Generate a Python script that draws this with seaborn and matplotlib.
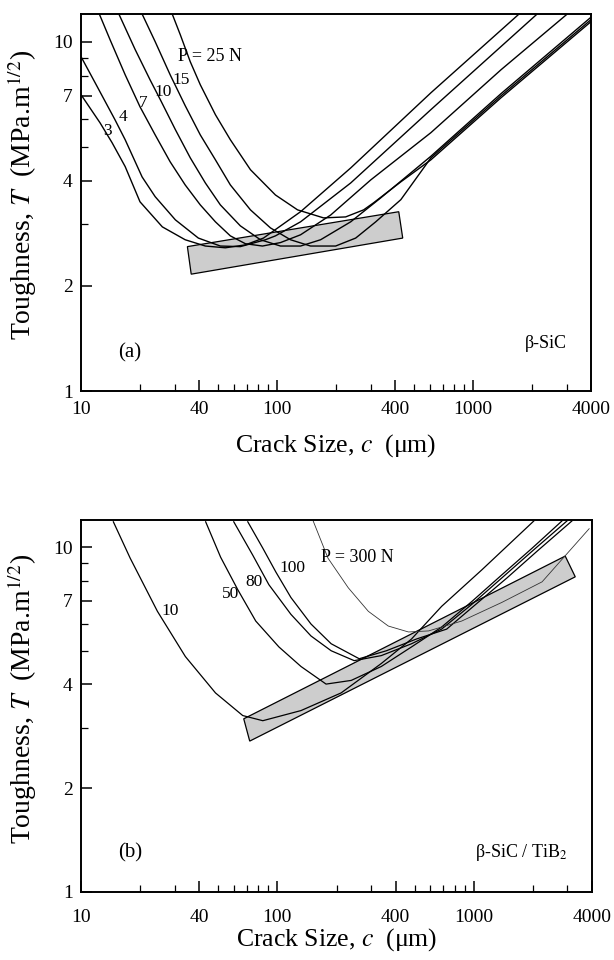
import numpy as np
import pandas as pd
import seaborn as sns
from matplotlib import pyplot as plt
from matplotlib.ticker import FixedLocator, NullFormatter

# ---- panel (a): beta-SiC, crack size c (um) vs toughness T (MPa.m^1/2)
a_loads = [3, 4, 7, 10, 15, 25]
a_c3 = [10, 12.5, 14.4, 16.8, 20.0, 26.0, 34.0, 43.1, 54.5, 69.0, 85.3, 131.9, 237.7, 610, 1718]
a_T3 = [7.05, 5.86, 5.14, 4.39, 3.48, 2.95, 2.71, 2.60, 2.57, 2.62, 2.74, 3.26, 4.35, 7.14, 12.0]
a_c4 = [10, 11.8, 14.9, 16.8, 20.5, 23.9, 30.3, 39.7, 51.4, 65.0, 87.3, 98.2, 131.9, 237.7, 610, 2125]
a_T4 = [9.06, 7.63, 5.98, 5.24, 4.10, 3.60, 3.09, 2.74, 2.60, 2.59, 2.71, 2.78, 3.05, 3.94, 6.39, 12.0]
a_c7 = [12.4, 14.1, 16.8, 20.0, 23.9, 28.5, 34.0, 40.6, 48.5, 57.8, 69.0, 84.3, 104.2, 131.9, 187.9, 300.8, 610, 1390, 3027]
a_T7 = [12.0, 10.1, 8.04, 6.51, 5.41, 4.53, 3.89, 3.41, 3.05, 2.78, 2.64, 2.60, 2.66, 2.80, 3.19, 4.02, 5.49, 8.31, 12.0]
a_c10 = [15.6, 18.9, 22.5, 25.4, 30.3, 36.1, 43.1, 51.4, 65.0, 82.3, 104.2, 131.9, 166.9, 237.7, 338, 610, 1390, 4000]
a_T10 = [12.0, 9.49, 7.78, 6.82, 5.60, 4.65, 3.94, 3.41, 2.97, 2.71, 2.60, 2.60, 2.71, 3.05, 3.57, 4.70, 7.10, 11.75]
a_c15 = [20.5, 23.9, 28.5, 34.0, 40.6, 48.5, 57.8, 73.2, 92.6, 117.2, 148.3, 199.1, 252, 319, 428.5, 610, 1390, 4000]
a_T15 = [12.0, 10.0, 8.04, 6.56, 5.41, 4.59, 3.89, 3.30, 2.93, 2.71, 2.60, 2.60, 2.74, 3.05, 3.53, 4.65, 7.00, 11.56]
a_c25 = [29.2, 32.1, 36.1, 40.6, 48.5, 57.8, 73.2, 98.2, 127.3, 172.8, 224, 276.7, 311.6, 428.5, 610, 1390, 4000]
a_T25 = [12.0, 10.47, 8.76, 7.53, 6.18, 5.24, 4.30, 3.64, 3.30, 3.13, 3.15, 3.30, 3.46, 3.97, 4.59, 6.91, 11.41]
a_band_c = [34.9, 418, 438, 36.5]
a_band_T = [2.59, 3.26, 2.74, 2.16]

# ---- panel (b): beta-SiC / TiB2
b_loads = [10, 50, 80, 100, 300]
b_c10 = [14.6, 17.8, 24.5, 34.0, 48.4, 66.6, 84.3, 131.9, 211, 338, 482, 686, 1099, 2028]
b_T10 = [11.87, 9.30, 6.52, 4.82, 3.78, 3.25, 3.14, 3.36, 3.78, 4.60, 5.42, 6.74, 8.60, 11.94]
b_c50 = [43.1, 51.4, 62.8, 77.6, 101.8, 131.9, 177, 237.7, 338, 482, 686, 977, 1390, 1982, 2820]
b_T50 = [11.87, 9.36, 7.54, 6.11, 5.14, 4.51, 4.01, 4.11, 4.51, 5.14, 5.87, 6.96, 8.32, 9.94, 11.94]
b_c80 = [59.9, 74.9, 90.5, 117.2, 148.3, 187.9, 246, 338, 482, 686, 977, 1390, 1982, 2991]
b_T80 = [11.87, 9.49, 7.79, 6.39, 5.53, 5.01, 4.69, 4.85, 5.25, 5.79, 6.83, 8.15, 9.74, 11.94]
b_c100 = [70.6, 84.3, 98.2, 117.2, 148.3, 187.9, 261, 359, 511, 728, 1036, 1476, 2100, 3170]
b_T100 = [11.87, 9.94, 8.48, 7.15, 5.99, 5.25, 4.75, 5.01, 5.42, 5.79, 6.87, 8.15, 9.74, 11.94]
b_c300 = [152, 181, 229.6, 290.5, 367, 465, 589, 868, 1390, 2228, 3873]
b_T300 = [11.94, 9.30, 7.63, 6.52, 5.91, 5.68, 5.72, 6.11, 6.92, 7.94, 11.33]
b_band_c = [67.4, 2922, 3287, 72.3]
b_band_T = [3.18, 9.43, 8.21, 2.74]

x_ticks = [10, 40, 100, 400, 1000, 4000]
y_ticks = [1, 2, 4, 7, 10]
y_minor = [3, 5, 6, 8, 9]


def to_long(cs, ts, loads):
    frames = [pd.DataFrame({"c": c, "T": t, "P": p}) for c, t, p in zip(cs, ts, loads)]
    return pd.concat(frames, ignore_index=True)


df_a = to_long([a_c3, a_c4, a_c7, a_c10, a_c15, a_c25],
               [a_T3, a_T4, a_T7, a_T10, a_T15, a_T25], a_loads)
df_b = to_long([b_c10, b_c50, b_c80, b_c100, b_c300],
               [b_T10, b_T50, b_T80, b_T100, b_T300], b_loads)

sns.set_theme(style="ticks")
plt.rcParams["font.family"] = ["Liberation Serif", "DejaVu Serif"]
plt.rcParams["mathtext.fontset"] = "stix"
plt.rcParams["text.color"] = "black"
plt.rcParams["axes.labelcolor"] = "black"

fig = plt.figure(figsize=(6.14, 9.6), dpi=100)
ax_a = fig.add_axes([81 / 614, 1 - 391 / 960, 510 / 614, 377 / 960])
ax_b = fig.add_axes([81 / 614, 1 - 892 / 960, 511 / 614, 372 / 960])


def style_axes(ax, tick_pad, xlab_y):
    ax.set_xscale("log")
    ax.set_yscale("log")
    ax.set_xlim(10, 4000)
    ax.set_ylim(1, 12)
    ax.xaxis.set_major_locator(FixedLocator(x_ticks))
    ax.set_xticklabels([str(v) for v in x_ticks])
    ax.xaxis.set_minor_locator(FixedLocator(
        [v * m for v in (10, 100, 1000) for m in range(2, 10) if v * m < 4000 and v * m not in x_ticks]))
    ax.xaxis.set_minor_formatter(NullFormatter())
    ax.yaxis.set_major_locator(FixedLocator(y_ticks))
    ax.set_yticklabels([str(v) for v in y_ticks])
    ax.yaxis.set_minor_locator(FixedLocator(y_minor))
    ax.yaxis.set_minor_formatter(NullFormatter())
    ax.tick_params(which="both", direction="in", top=False, right=False, labelsize=14,
                   colors="black", labelcolor="black")
    ax.tick_params(which="major", length=8, width=1.1)
    ax.tick_params(which="minor", length=5, width=0.9)
    ax.tick_params(axis="x", which="major", pad=tick_pad)
    ax.tick_params(axis="y", which="major", pad=6)
    for s in ax.spines.values():
        s.set_linewidth(1.4)
        s.set_color("black")
    ax.set_xlabel(r"Crack Size, $\it{c}$  (μm)", fontsize=18.5, va="top", color="black")
    ax.xaxis.set_label_coords(0.5, xlab_y)
    ax.set_ylabel(r"Toughness, $\it{T}$  (MPa.m$^{1/2}$)", fontsize=20, color="black")
    ax.yaxis.set_label_coords(-0.082, 0.52)


# panel (a)
ax_a.fill(a_band_c, a_band_T, facecolor="#cdcdcd", edgecolor="black", lw=0.9, zorder=1)
sns.lineplot(data=df_a, x="c", y="T", units="P", estimator=None, color="black",
             lw=1.0, sort=False, ax=ax_a, zorder=2)
style_axes(ax_a, 7, -0.108)
ax_a.text(31.3, 9.05, "P = 25 N", fontsize=13, va="center", ha="left")
for txt, cx, ty in [("15", 32.5, 7.78), ("10", 26.2, 7.19), ("7", 20.7, 6.69),
                    ("4", 16.4, 6.10), ("3", 13.6, 5.56)]:
    ax_a.text(cx, ty, txt, fontsize=12.5, ha="center", va="center")
ax_a.text(17.8, 1.29, "(a)", fontsize=15, ha="center", va="center")
ax_a.text(3000, 1.37, "β-SiC", fontsize=13, ha="right", va="center")

# panel (b)
ax_b.fill(b_band_c, b_band_T, facecolor="#cdcdcd", edgecolor="black", lw=0.9, zorder=1)
sns.lineplot(data=df_b[df_b["P"] != 300], x="c", y="T", units="P", estimator=None,
             color="black", lw=0.9, sort=False, ax=ax_b, zorder=2)
sns.lineplot(data=df_b[df_b["P"] == 300], x="c", y="T", estimator=None,
             color="#333333", lw=0.6, sort=False, ax=ax_b, zorder=2)
style_axes(ax_b, 12, -0.093)
ax_b.text(167, 9.36, "P = 300 N", fontsize=13, va="center", ha="left")
for txt, cx, ty in [("100", 120, 8.71), ("80", 75.9, 7.94), ("50", 57.8, 7.34), ("10", 28.5, 6.52)]:
    ax_b.text(cx, ty, txt, fontsize=12.5, ha="center", va="center")
ax_b.text(17.8, 1.30, "(b)", fontsize=15, ha="center", va="center")
ax_b.text(3000, 1.30, r"β-SiC / TiB$_2$", fontsize=13, ha="right", va="center")

fig.savefig("out.png", dpi=100)
